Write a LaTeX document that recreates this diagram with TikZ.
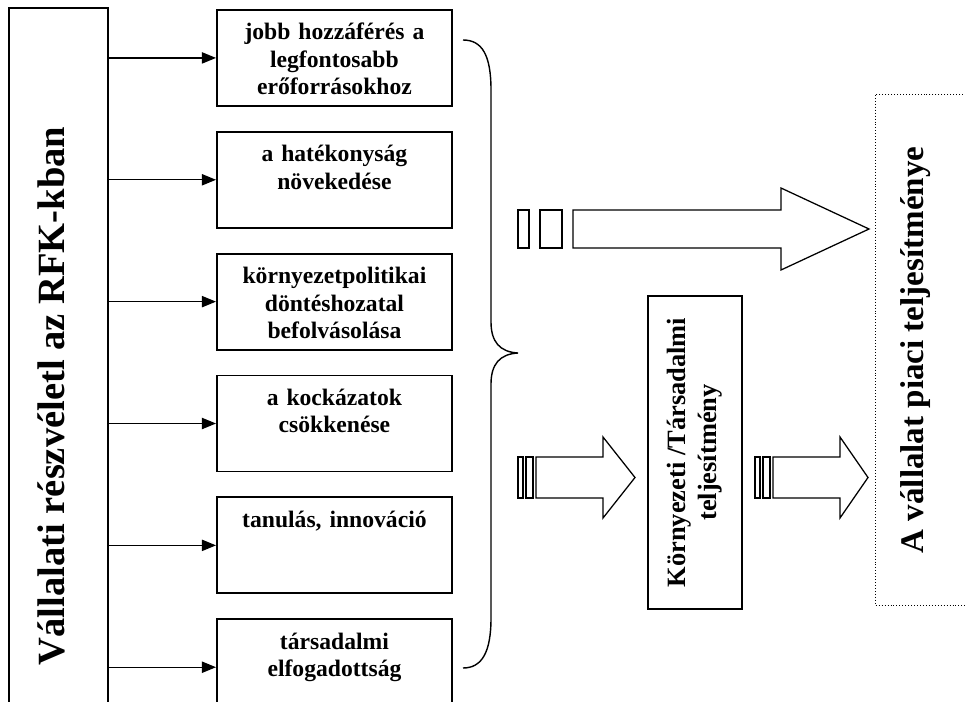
\documentclass[tikz,border=0pt]{standalone}
\usepackage{fontspec}
\setmainfont{Liberation Serif}
\usetikzlibrary{arrows.meta, positioning}

\begin{document}
\begin{tikzpicture}[
      x=0.025cm, y=-0.025cm,
      node distance=0.6cm,
      box/.style={rectangle, draw, line width=1.3pt, inner sep=0pt, text width=5.875cm, align=center, text height=0.75cm, text depth=1.65cm, font=\fontsize{16.8}{19.5}\selectfont\bfseries},
      vbox/.style={rectangle, draw, line width=1.3pt, inner sep=0pt, rotate=90, font=\fontsize{23.5}{27}\selectfont\bfseries},
      dotbox/.style={vbox, line width=0.7pt, dash pattern=on 0.7pt off 1.4pt},
      arrow/.style={-{Triangle[length=0.35cm, width=0.28cm]}, line width=0.9pt},
      blk/.style={draw, line width=0.9pt, line join=miter},
      brace/.style={line width=1pt}
    ]
      \path[use as bounding box] (0,0) rectangle (965,702);
      \clip (0,0) rectangle (965,702);

      \node[vbox, anchor=base, text height=1.375cm, text depth=1.1cm, minimum width=19.4cm, font=\fontsize{27.4}{31}\selectfont\bfseries] (part) at (64,396) {Vállalati részvéletl az RFK-kban};

      \node[box, anchor=north west] (b1) at (216,9) {jobb hozzáférés a\\legfontosabb\\erőforrásokhoz};
      \node[box, below=of b1] (b2) {a hatékonyság\\növekedése};
      \node[box, below=of b2] (b3) {környezetpolitikai\\döntéshozatal\\befolvásolása};
      \node[box, below=of b3] (b4) {a kockázatok\\csökkenése};
      \node[box, below=of b4] (b5) {tanulás, innováció};
      \node[box, below=of b5] (b6) {társadalmi\\elfogadottság};

      \node[vbox, minimum width=7.825cm, minimum height=2.35cm, align=center, font=\fontsize{18.8}{22}\selectfont\bfseries] (env) at (695,452.5) {Környezeti /Társadalmi\\teljesítmény};
      \node[dotbox, anchor=base, text height=1.2cm, text depth=2.5cm, minimum width=12.75cm] (market) at (923,350) {A vállalat piaci teljesítménye};

      % part.south is the right side of the turned box
      \draw[arrow] (part.south |- b1.west) -- (b1.west);
      \draw[arrow] (part.south |- b2.west) -- (b2.west);
      \draw[arrow] (part.south |- b3.west) -- (b3.west);
      \draw[arrow] (part.south |- b4.west) -- (b4.west);
      \draw[arrow] (part.south |- b5.west) -- (b5.west);
      \draw[arrow] (part.south |- b6.west) -- (b6.west);

      \draw[brace] (463,40) .. controls (482,40) and (491,55) .. (491,90) -- (491,322)
        .. controls (491,342) and (500,352) .. (518,353)
        .. controls (500,354) and (491,364) .. (491,384) -- (491,618)
        .. controls (491,652) and (482,668) .. (463,668);

      % block arrows
      \draw[blk] (518,210) rectangle (529,248);
      \draw[blk] (540,210) rectangle (562,248);
      \draw[blk] (573,210) -- (781,210) -- (781,188) -- (869,229) -- (781,270) -- (781,248) -- (573,248) -- cycle;

      \draw[blk] (518,457) rectangle (523,498);
      \draw[blk] (526,457) rectangle (533,498);
      \draw[blk] (536,457) -- (603,457) -- (603,437) -- (635,477.5) -- (603,518) -- (603,498) -- (536,498) -- cycle;

      \draw[blk] (755,457) rectangle (760,498);
      \draw[blk] (763,457) rectangle (770,498);
      \draw[blk] (773,457) -- (840,457) -- (840,437) -- (868,477.5) -- (840,518) -- (840,498) -- (773,498) -- cycle;
    \end{tikzpicture}
\end{document}
